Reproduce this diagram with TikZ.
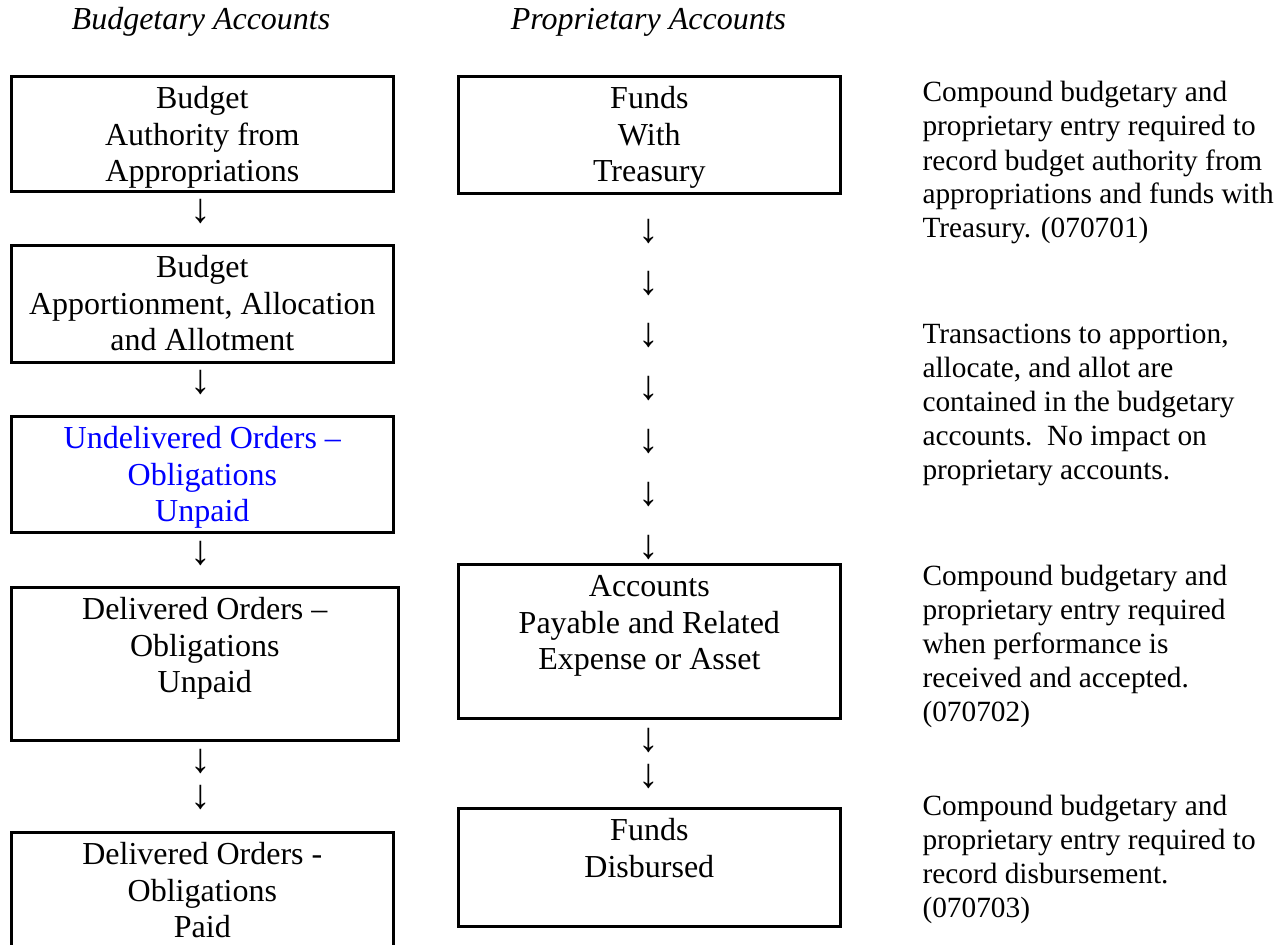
\documentclass[tikz,border=0pt]{standalone}
\usepackage{fontspec}
\setmainfont{Liberation Serif}
\usepackage{xcolor}
\usepackage{tikz}
\usetikzlibrary{positioning}
\tikzset{
  acct box/.style={rectangle, draw, line width=1pt, inner sep=0pt, anchor=north west, align=flush center, text width=143.25pt, text height=12pt, font=\fontsize{12pt}{13.8pt}\selectfont},
  acct arrow/.style={inner sep=0pt, font=\fontsize{15.5pt}{15.5pt}\selectfont},
  acct note/.style={inner sep=0pt, anchor=base west, align=flush left, text width=135pt, font=\fontsize{11pt}{12.75pt}\selectfont},
  acct head/.style={inner sep=0pt, anchor=base, font=\fontsize{12pt}{13.8pt}\selectfont\itshape}
}

\begin{document}
\begin{tikzpicture}[x=0.375pt, y=-0.375pt]
    \useasboundingbox (0,0) rectangle (1284,945);
    \clip (0,0) rectangle (1284,945);

    % Column headings
    \node [acct head] (HBud) at (201,29.5) {Budgetary Accounts};
    \node [acct head] (HProp) at (648.5,29.5) {Proprietary Accounts};

    % Budgetary accounts
    \node [acct box, text depth=31.1pt] (BudAuth) at (10,75) {Budget\\Authority from\\Appropriations};
    \node [acct box, text depth=31.9pt] (BudAppt) at (10,244) {Budget\\Apportionment, Allocation\\and Allotment};
    \node [acct box, text depth=31.5pt, text=blue] (UndOrd) at (10,415) {Undelivered Orders –\\Obligations\\Unpaid};
    \node [acct box, text width=145.1pt, text depth=45.4pt] (DelUnp) at (10,586) {Delivered Orders –\\Obligations\\Unpaid};
    \node [acct box, text depth=33pt] (DelPaid) at (10,831) {Delivered Orders -\\Obligations\\Paid};

    % Budgetary flow
    \node [acct arrow] (BA1) at (201,211) {↓};
    \node [acct arrow] (BA2) at (201,382) {↓};
    \node [acct arrow] (BA3) at (201,553) {↓};
    \node [acct arrow] (BA4) at (201,761) {↓};
    \node [acct arrow] (BA5) at (201,797) {↓};

    % Proprietary accounts
    \node [acct box, text depth=31.9pt] (FundTr) at (457,75) {Funds\\With\\Treasury};
    \node [acct box, text depth=45.75pt] (AcctPay) at (457,563) {Accounts\\Payable and Related\\Expense or Asset};
    \node [acct box, text depth=32.25pt] (FundDis) at (457,807) {Funds\\Disbursed};

    % Proprietary flow
    \node [acct arrow] (PA1) at (649,231) {↓};
    \node [acct arrow] (PA2) at (649,283) {↓};
    \node [acct arrow] (PA3) at (649,335) {↓};
    \node [acct arrow] (PA4) at (649,388) {↓};
    \node [acct arrow] (PA5) at (649,441) {↓};
    \node [acct arrow] (PA6) at (649,494) {↓};
    \node [acct arrow] (PA7) at (649,547) {↓};
    \node [acct arrow] (PA8) at (649,740) {↓};
    \node [acct arrow] (PA9) at (649,776) {↓};

    % Notes
    \node [acct note] (Note1) at (922,102) {Compound budgetary and\\proprietary entry required to\\record budget authority from\\appropriations and funds with\\Treasury. (070701)};
    \node [acct note] (Note2) at (922,343) {Transactions to apportion,\\allocate, and allot are\\contained in the budgetary\\accounts.\ \ No impact on\\proprietary accounts.};
    \node [acct note] (Note3) at (922,585) {Compound budgetary and\\proprietary entry required\\when performance is\\received and accepted.\\(070702)};
    \node [acct note] (Note4) at (922,815) {Compound budgetary and\\proprietary entry required to\\record disbursement.\\(070703)};
\end{tikzpicture}
\end{document}
